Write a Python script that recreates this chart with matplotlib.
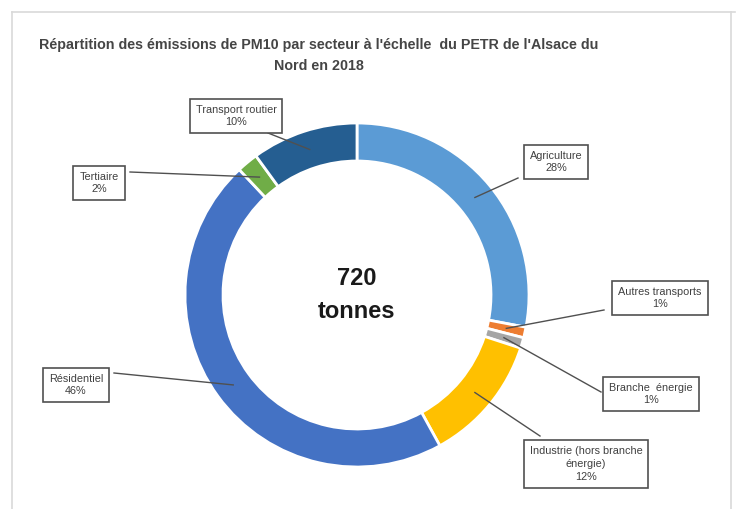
import matplotlib.pyplot as plt
from matplotlib.lines import Line2D
import numpy as np

# données
secteurs = ["Agriculture", "Autres transports", "Branche  énergie",
            "Industrie (hors branche\nénergie)", "Résidentiel", "Tertiaire",
            "Transport routier"]
parts = [28, 1, 1, 12, 46, 2, 10]
couleurs = ["#5b9bd5", "#ed7d31", "#a5a5a5", "#ffc000", "#4472c4", "#70ad47", "#255e91"]

# positions des étiquettes (pixels, y vers le bas)
pos_etiq = [(556, 162), (660, 298), (651, 394), (586, 464), (76, 385), (99, 183), (236, 116)]
ancrage = [(518, 178), (604, 310), (601, 392), (540, 436), (114, 373), (130, 172), (268, 133)]

W, H = 743, 509
fig = plt.figure(figsize=(W / 100, H / 100), dpi=100)
ax = fig.add_axes([0, 0, 1, 1])

cx, cy, r = 357, H - 295, 172
wedges, _ = ax.pie(parts, colors=couleurs, startangle=90, counterclock=False,
                   center=(cx, cy), radius=r, frame=True,
                   wedgeprops=dict(width=38, edgecolor="white", linewidth=2))
ax.set_xlim(0, W)
ax.set_ylim(0, H)
ax.set_aspect("equal")
ax.axis("off")

for w, nom, p, (bx, by), (lx, ly) in zip(wedges, secteurs, parts, pos_etiq, ancrage):
    ang = np.deg2rad((w.theta1 + w.theta2) / 2)
    rr = r - 19
    px, py = cx + rr * np.cos(ang), cy + rr * np.sin(ang)
    ax.plot([lx, px], [H - ly, py], color="#505050", lw=1, zorder=3)
    ax.text(bx, H - by, f"{nom}\n{p}%", ha="center", va="center", fontsize=7.8,
            family="Liberation Sans", color="#404040", linespacing=1.35, zorder=4,
            bbox=dict(boxstyle="square,pad=0.55", fc="white", ec="#505050", lw=1.2))

ax.text(cx, H - 295, "720\ntonnes", ha="center", va="center", fontsize=17,
        fontweight="bold", family="Liberation Sans", color="#1a1a1a", linespacing=1.6)

fig.text(319 / W, 1 - 45 / H, "Répartition des émissions de PM10 par secteur à l'échelle  du PETR de l'Alsace du",
         ha="center", va="center", fontsize=10.3, fontweight="bold", family="Liberation Sans",
         color="#454545")
fig.text(319 / W, 1 - 66 / H, "Nord en 2018", ha="center", va="center", fontsize=10.3,
         fontweight="bold", family="Liberation Sans", color="#454545")

# cadre de la capture
for xs, ys in [((12, 735), (H - 12, H - 12)), ((12, 12), (H - 12, 0)), ((731, 731), (H - 12, 0))]:
    fig.add_artist(Line2D([x / W for x in xs], [y / H for y in ys], color="#d9d9d9", lw=1.2))

fig.savefig("out.png", dpi=100, facecolor="white")
